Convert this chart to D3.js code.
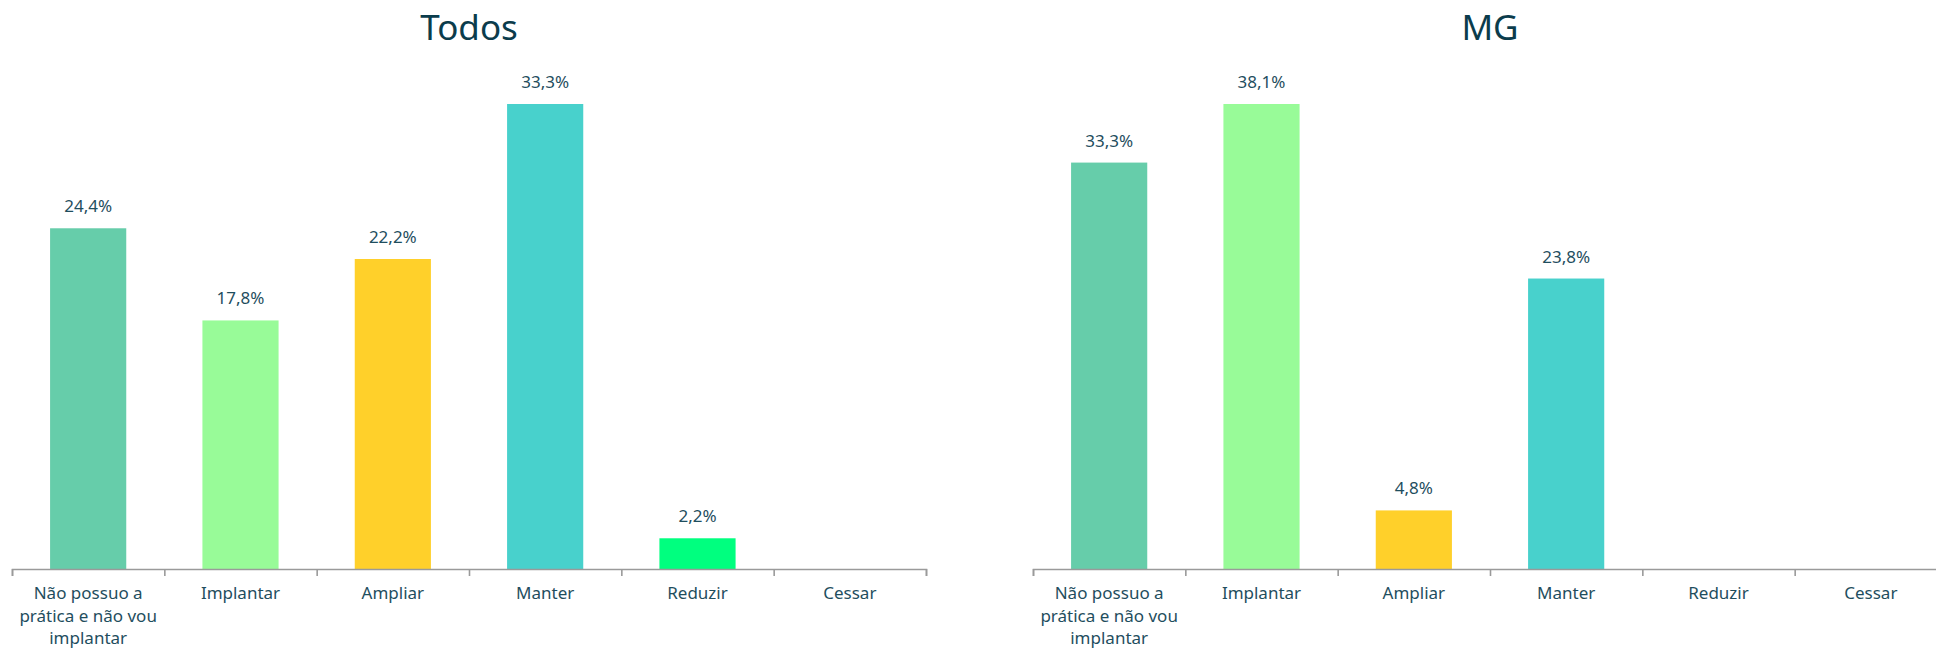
<!DOCTYPE html>
<html>
<head>
<meta charset="utf-8">
<script src="https://cdn.jsdelivr.net/npm/d3@7"></script>
<style>
  html, body { margin: 0; padding: 0; background: #ffffff; }
  svg { display: block; font-family: "Noto Sans", sans-serif; }
</style>
</head>
<body>
<svg id="chart" width="1936" height="648"></svg>
<script>
// Categories shared by both panels
const categories = [
  "Não possuo a prática e não vou implantar",
  "Implantar",
  "Ampliar",
  "Manter",
  "Reduzir",
  "Cessar"
];

// Percentages per panel
const todosValues = [24.4, 17.8, 22.2, 33.3, 2.2, 0];
const mgValues = [33.3, 38.1, 4.8, 23.8, 0, 0];

const panelTitles = ["Todos", "MG"];

// One colour per category
const barColors = ["#66cdaa", "#98fb98", "#ffd02a", "#48d1cc", "#00ff7f", "#8fbc8f"];

const svg = d3.select("#chart");
const axisY = 569;
const plotTop = 104;

const fmt = v => d3.format(".1f")(v).replace(".", ",") + "%";

function wrap(textSel, width) {
  textSel.each(function () {
    const text = d3.select(this);
    const words = text.text().split(/\s+/);
    const x = text.attr("x") || 0;
    const y = text.attr("y");
    const dy = parseFloat(text.attr("dy")) || 0;
    text.text(null);
    let line = [];
    let lineNo = 0;
    let tspan = text.append("tspan").attr("x", x).attr("y", y).attr("dy", dy + "em");
    for (const w of words) {
      line.push(w);
      tspan.text(line.join(" "));
      if (tspan.node().getComputedTextLength() > width && line.length > 1) {
        line.pop();
        tspan.text(line.join(" "));
        line = [w];
        lineNo++;
        tspan = text.append("tspan").attr("x", x).attr("y", y)
          .attr("dy", (lineNo * 1.32 + dy) + "em").text(w);
      }
    }
  });
}

function drawPanel(x0, x1, title, values) {
  const g = svg.append("g");

  const x = d3.scaleBand()
    .domain(categories)
    .range([x0, x1])
    .paddingInner(0.5)
    .paddingOuter(0.25);

  const y = d3.scaleLinear()
    .domain([0, d3.max(values)])
    .range([axisY, plotTop]);

  const data = categories.map((c, i) => ({ c, v: values[i], color: barColors[i] }));

  // Bars
  g.selectAll("rect.bar")
    .data(data.filter(d => d.v > 0))
    .join("rect")
    .attr("class", "bar")
    .attr("x", d => x(d.c))
    .attr("width", x.bandwidth())
    .attr("y", d => y(d.v))
    .attr("height", d => axisY - y(d.v))
    .attr("fill", d => d.color);

  // Value labels
  g.selectAll("text.val")
    .data(data.filter(d => d.v > 0))
    .join("text")
    .attr("class", "val")
    .attr("x", d => x(d.c) + x.bandwidth() / 2)
    .attr("y", d => y(d.v) - 16)
    .attr("text-anchor", "middle")
    .attr("font-size", 17)
    .attr("fill", "#1f4e5e")
    .text(d => fmt(d.v));

  // Axis line with ticks on category boundaries
  const edges = d3.scaleLinear().domain([0, categories.length]).range([x0, x1]);
  const edgeAxis = g.append("g")
    .attr("transform", `translate(0,${axisY})`)
    .call(d3.axisBottom(edges).tickValues(d3.range(0, categories.length + 1))
      .tickSize(7).tickSizeOuter(7).tickFormat(""));
  edgeAxis.selectAll("path, line").attr("stroke", "#9a9a9a").attr("stroke-width", 1.6);

  // Category labels
  const labelAxis = g.append("g")
    .attr("transform", `translate(0,${axisY})`)
    .call(d3.axisBottom(x).tickSize(0).tickPadding(18));
  labelAxis.select(".domain").remove();
  labelAxis.selectAll("text")
    .attr("font-family", "Noto Sans, sans-serif")
    .attr("font-size", 17)
    .attr("fill", "#1f4e5e")
    .call(wrap, 148);

  // Panel title
  svg.append("text")
    .attr("x", (x0 + x1) / 2)
    .attr("y", 40)
    .attr("text-anchor", "middle")
    .attr("font-size", 35)
    .attr("fill", "#0b3c4c")
    .text(title);
}

drawPanel(12, 926, panelTitles[0], todosValues);
drawPanel(1033, 1947, panelTitles[1], mgValues);
</script>
</body>
</html>
